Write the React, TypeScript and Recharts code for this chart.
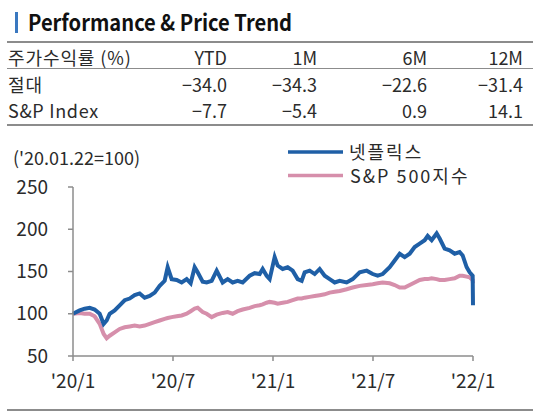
import { Line, LineChart, XAxis, YAxis } from "recharts";

// months since the base date ('20.01.22)
const months = [
  0, 0.4, 0.7, 1.0, 1.3, 1.6, 1.84, 2.02, 2.2, 2.5, 2.8, 3.1, 3.4, 3.7, 4.0, 4.3,
  4.6, 4.9, 5.2, 5.5, 5.68, 5.92, 6.22, 6.52, 6.82, 7.06, 7.3, 7.48, 7.78, 8.02,
  8.32, 8.62, 8.98, 9.28, 9.58, 9.88, 10.18, 10.6, 10.9, 11.2, 11.38, 11.62, 11.8,
  12.1, 12.28, 12.58, 12.88, 13.18, 13.48, 13.72, 13.9, 14.2, 14.5, 14.8, 15.1,
  15.4, 15.7, 16.0, 16.42, 16.78, 17.2, 17.62, 17.98, 18.28, 18.58, 19.0, 19.3,
  19.6, 19.9, 20.2, 20.5, 20.8, 21.1, 21.28, 21.52, 21.82, 22.0, 22.3, 22.6, 22.9,
  23.2, 23.38, 23.62, 23.8, 23.98, 24.0,
];

const netflix = [
  100, 104, 106, 107, 105, 100, 88, 92, 100, 104, 110, 116, 118, 122, 124, 119,
  121, 125, 133, 139, 155, 141, 140, 137, 141, 136, 155, 149, 138, 137,
  139, 151, 137, 141, 137, 139, 137, 145, 148, 147, 153, 145, 141,
  167, 157, 153, 155, 151, 141, 139, 149, 151, 147, 153, 145,
  141, 137, 139, 137, 141, 149, 151, 147, 145, 147, 155, 163,
  171, 167, 171, 179, 183, 187, 192, 187, 195, 189, 177, 175, 171,
  173, 169, 155, 149, 145, 110,
];

const sp500 = [
  100, 101, 100, 100, 97, 88, 76, 71, 74, 78, 82, 84, 85, 86, 85, 86,
  88, 90, 92, 94, 95, 96, 97, 98, 100, 103, 106, 107, 102, 100,
  96, 99, 101, 102, 100, 103, 105, 107, 109, 110, 111, 113, 114,
  113, 112, 113, 114, 116, 118, 118, 119, 120, 121, 122, 123,
  125, 126, 127, 129, 131, 133, 134, 135, 136, 137, 136, 134,
  131, 131, 134, 137, 140, 141, 141, 142, 141, 140, 140, 141, 142,
  145, 145, 144, 143, 140, 136,
];

const tickMonths = [0, 6, 12, 18, 24];
const tickLabels = ["'20/1", "'20/7", "'21/1", "'21/7", "'22/1"];
const yTicks = [50, 100, 150, 200, 250];

const periods = ["YTD", "1M", "6M", "12M"];
const absoluteReturn = [-34.0, -34.3, -22.6, -31.4];
const indexReturn = [-7.7, -5.4, 0.9, 14.1];
const columnRight = [227, 317, 427, 523];

const font = "'Noto Sans CJK KR', 'Noto Sans', sans-serif";
const textColor = "#2b2b2b";
const ruleColor = "#8c8c8c";
const blue = "#1f5fa6";
const pink = "#d68fab";

const fmt = (v: number) => (v < 0 ? "\u2212" + Math.abs(v).toFixed(1) : v.toFixed(1));

const chartData = months.map((t, i) => ({
  t,
  netflix: netflix[i],
  sp500: sp500[i],
}));

function Header() {
  return (
    <svg
      width={550}
      height={418}
      style={{ position: "absolute", left: 0, top: 0, pointerEvents: "none" }}
      fontFamily={font}
    >
      <rect x={15} y={12} width={3} height={21} fill="#3a78c0" />
      <text
        x={28}
        y={30.5}
        fontSize={22}
        fontWeight={700}
        fill="#111"
        textLength={264}
        lengthAdjust="spacingAndGlyphs"
      >
        Performance &amp; Price Trend
      </text>

      <line x1={7} x2={533} y1={42} y2={42} stroke={ruleColor} strokeWidth={2} />
      <line x1={7} x2={533} y1={68.5} y2={68.5} stroke={ruleColor} strokeWidth={1} />
      <line x1={7} x2={533} y1={125} y2={125} stroke={ruleColor} strokeWidth={2} />

      <g fontSize={18} fill={textColor}>
        <text x={8} y={65} letterSpacing={0.9}>주가수익률 (%)</text>
        <text x={8} y={91.5} letterSpacing={0.9}>절대</text>
        <text x={8} y={118} letterSpacing={0.7}>S&amp;P Index</text>
        {periods.map((p, i) => (
          <text key={p} x={columnRight[i]} y={65} textAnchor="end">
            {p}
          </text>
        ))}
        {absoluteReturn.map((v, i) => (
          <text key={"a" + i} x={columnRight[i]} y={91.5} textAnchor="end">
            {fmt(v)}
          </text>
        ))}
        {indexReturn.map((v, i) => (
          <text key={"s" + i} x={columnRight[i]} y={118} textAnchor="end">
            {fmt(v)}
          </text>
        ))}
      </g>

      <text x={13} y={165} fontSize={18} fill={textColor}>
        ('20.01.22=100)
      </text>

      <line x1={288} x2={343} y1={152} y2={152} stroke={blue} strokeWidth={3.5} />
      <text x={349} y={158.5} fontSize={18} letterSpacing={2} fill={textColor}>
        넷플릭스
      </text>
      <line x1={288} x2={343} y1={175.5} y2={175.5} stroke={pink} strokeWidth={3.5} />
      <text x={350} y={183} fontSize={18} letterSpacing={2} fill={textColor}>
        S&amp;P 500지수
      </text>

      <line x1={7} x2={533} y1={410} y2={410} stroke={ruleColor} strokeWidth={2} />
    </svg>
  );
}

export default function App() {
  return (
    <div
      style={{
        position: "absolute",
        left: 0,
        top: 0,
        width: 550,
        height: 418,
        background: "#fff",
        fontFamily: font,
      }}
    >
      <LineChart
        width={550}
        height={418}
        data={chartData}
        margin={{ top: 187, right: 77, bottom: 0, left: 0 }}
        style={{ position: "absolute", left: 0, top: 0 }}
      >
        <XAxis
          dataKey="t"
          type="number"
          domain={[0, 24]}
          ticks={tickMonths}
          tickFormatter={(v: number) => tickLabels[tickMonths.indexOf(v)]}
          height={62}
          tickSize={5}
          tickMargin={14}
          axisLine={{ stroke: ruleColor, strokeWidth: 1.5 }}
          tickLine={{ stroke: ruleColor, strokeWidth: 1.5 }}
          tick={{ fill: textColor, fontSize: 19, fontFamily: font }}
          interval={0}
        />
        <YAxis
          type="number"
          domain={[50, 250]}
          ticks={yTicks}
          width={73}
          tickSize={5}
          tickMargin={20}
          axisLine={{ stroke: ruleColor, strokeWidth: 1.5 }}
          tickLine={{ stroke: ruleColor, strokeWidth: 1.5 }}
          tick={{ fill: textColor, fontSize: 19, fontFamily: font }}
          interval={0}
        />
        <Line
          type="linear"
          dataKey="sp500"
          stroke={pink}
          strokeWidth={4}
          dot={false}
          isAnimationActive={false}
        />
        <Line
          type="linear"
          dataKey="netflix"
          stroke={blue}
          strokeWidth={4}
          dot={false}
          isAnimationActive={false}
        />
      </LineChart>
      <Header />
    </div>
  );
}
